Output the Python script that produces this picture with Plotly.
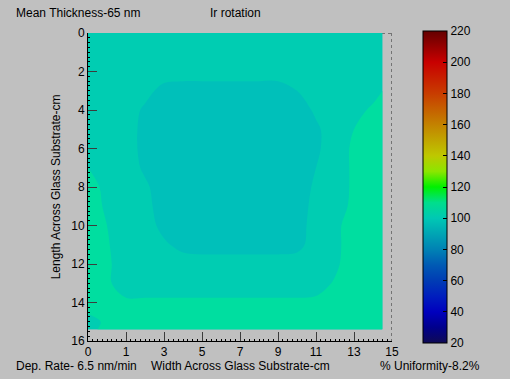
import plotly.graph_objects as go

# ---- data ----
x_cm = [0, 1, 2, 3, 4, 5, 6, 7, 8, 9, 10, 11, 12, 13, 14, 15, 15.5]
y_cm = [0, 1, 2, 3, 4, 5, 6, 7, 8, 9, 10, 11, 12, 13, 14, 15, 15.4]
thickness_pct = [
    [100, 100, 100, 100, 100, 100, 100, 100, 100, 100, 100, 100, 100, 100, 100, 100, 100],
    [100, 100, 100, 100, 100, 100, 100, 100, 100, 100, 100, 100, 100, 100, 100, 100, 100],
    [100, 100, 100, 100, 100, 100, 100, 100, 100, 100, 100, 100, 100, 100, 100, 101, 101],
    [100, 100, 100, 99, 95, 94, 94, 94, 94, 94, 94, 97, 100, 100, 100, 101, 103],
    [100, 100, 100, 96, 94, 94, 94, 94, 94, 94, 94, 94, 98, 100, 101, 104, 106],
    [100, 100, 100, 95, 94, 94, 94, 94, 94, 94, 94, 94, 96, 100, 103, 106, 106],
    [100, 100, 100, 95, 94, 94, 94, 94, 94, 94, 94, 94, 96, 100, 104, 106, 106],
    [103, 100, 100, 96, 94, 94, 94, 94, 94, 94, 94, 94, 97, 100, 104, 106, 106],
    [106, 101, 100, 98, 94, 94, 94, 94, 94, 94, 94, 94, 98, 100, 104, 106, 106],
    [106, 102, 100, 99, 94, 94, 94, 94, 94, 94, 94, 94, 99, 101, 104, 106, 106],
    [106, 103, 100, 100, 95, 94, 94, 94, 94, 94, 94, 94, 100, 102, 105, 106, 106],
    [106, 103.5, 100, 100, 98, 95, 94, 94, 94, 94, 94, 95, 100, 102, 105, 106, 106],
    [106, 104, 100, 100, 100, 100, 100, 100, 100, 100, 100, 100, 100, 102, 106, 106, 106],
    [106, 104, 100, 100, 100, 100, 100, 100, 100, 100, 100, 100, 101, 103.5, 106, 106, 106],
    [106, 105, 104, 104, 104, 104, 104, 104, 104, 104, 104, 104, 104, 105, 106, 106, 106],
    [101, 104, 106, 106, 106, 106, 106, 106, 106, 106, 106, 106, 106, 106, 106, 106, 106],
    [101, 105, 106, 106, 106, 106, 106, 106, 106, 106, 106, 106, 106, 106, 106, 106, 106],
]
x_tick_vals = [0, 2, 4, 6, 8, 10, 12, 14, 16]
x_tick_text = ["0", "1", "3", "5", "7", "9", "11", "13", "15"]
y_tick_vals = [0, 2, 4, 6, 8, 10, 12, 14, 16]
cbar_range = [20, 220]
cbar_ticks = [20, 40, 60, 80, 100, 120, 140, 160, 180, 200, 220]

# ---- styles ----
GRAY = "rgb(192,192,192)"
FONT = "Liberation Sans, Arial, sans-serif"
BLOB = "rgb(0,192,186)"
BG = "rgb(0,205,178)"
GREEN = "rgb(0,222,160)"

jet_like = [
    [0.00, "rgb(15,10,85)"],
    [0.05, "rgb(0,0,140)"],
    [0.10, "rgb(0,0,190)"],
    [0.15, "rgb(0,30,190)"],
    [0.20, "rgb(0,60,180)"],
    [0.25, "rgb(0,90,180)"],
    [0.30, "rgb(0,130,180)"],
    [0.35, "rgb(0,165,180)"],
    [0.40, "rgb(0,200,180)"],
    [0.45, "rgb(0,222,140)"],
    [0.50, "rgb(0,240,0)"],
    [0.55, "rgb(140,230,0)"],
    [0.60, "rgb(190,200,0)"],
    [0.70, "rgb(195,130,0)"],
    [0.80, "rgb(200,60,0)"],
    [0.90, "rgb(200,0,0)"],
    [1.00, "rgb(100,0,0)"],
]

band_scale = [
    [0.0, BLOB], [0.3333, BLOB],
    [0.3333, BG], [0.6667, BG],
    [0.6667, GREEN], [1.0, GREEN],
]

fig = go.Figure()
fig.add_trace(go.Contour(
    x=x_cm, y=y_cm, z=thickness_pct,
    zmin=91, zmax=109,
    contours=dict(start=97, end=103, size=6, coloring="fill", showlines=False),
    line=dict(width=0, smoothing=1.0),
    colorscale=band_scale,
    showscale=False,
    hoverinfo="skip",
))
# colorbar carrier
fig.add_trace(go.Scatter(
    x=[None, None], y=[None, None], mode="markers",
    marker=dict(
        color=cbar_range, cmin=cbar_range[0], cmax=cbar_range[1],
        colorscale=jet_like, showscale=True,
        colorbar=dict(
            x=(423 - 88) / 304, xanchor="left", xpad=0,
            y=0.5, yanchor="middle", ypad=0,
            lenmode="pixels", len=312, thickness=24,
            outlinecolor="black", outlinewidth=1,
            tickvals=cbar_ticks, ticks="inside", ticklen=4, tickcolor="black",
            tickfont=dict(family=FONT, size=12, color="black"),
            borderwidth=0,
        ),
    ),
    showlegend=False, hoverinfo="skip",
))

fig.update_layout(
    width=510, height=379,
    margin=dict(l=88, r=118, t=33, b=38),
    paper_bgcolor=GRAY, plot_bgcolor=GRAY,
    font=dict(family=FONT, size=12, color="black"),
    showlegend=False,
    xaxis=dict(
        range=[0, 16], tickvals=x_tick_vals, ticktext=x_tick_text,
        ticks="inside", ticklen=9, tickcolor="rgb(60,60,60)",
        minor=dict(ticks="inside", ticklen=2, dtick=0.25, tickcolor="black"),
        showgrid=False, zeroline=False,
        showline=True, linecolor="black", linewidth=1,
        tickfont=dict(size=12),
    ),
    yaxis=dict(
        range=[16, 0], tickvals=y_tick_vals,
        ticks="inside", ticklen=9, tickcolor="rgb(60,60,60)",
        minor=dict(ticks="inside", ticklen=2, dtick=0.25, tickcolor="black"),
        showgrid=False, zeroline=False,
        showline=True, linecolor="black", linewidth=1,
        tickfont=dict(size=12),
        title=dict(text="Length Across Glass Substrate-cm", font=dict(size=12), standoff=8),
    ),
    shapes=[
        dict(type="line", xref="x", yref="y", x0=16, x1=16, y0=0, y1=16,
             line=dict(color="rgb(40,40,40)", width=1, dash="dot"), layer="below"),
        dict(type="line", xref="x", yref="y", x0=0, x1=16, y0=0, y1=0,
             line=dict(color="rgb(40,40,40)", width=1, dash="dot"), layer="below"),
    ],
    annotations=[
        dict(text="Mean Thickness-65 nm", xref="paper", yref="paper",
             x=(14 - 88) / 304, y=1 + (33 - 13) / 308, xanchor="left", yanchor="middle",
             showarrow=False, font=dict(size=12)),
        dict(text="Ir rotation", xref="paper", yref="paper",
             x=(235 - 88) / 304, y=1 + (33 - 13) / 308, xanchor="center", yanchor="middle",
             showarrow=False, font=dict(size=12)),
        dict(text="Dep. Rate- 6.5 nm/min", xref="paper", yref="paper",
             x=(14 - 88) / 304, y=-(366 - 341) / 308, xanchor="left", yanchor="middle",
             showarrow=False, font=dict(size=12)),
        dict(text="Width Across Glass Substrate-cm", xref="paper", yref="paper",
             x=(240 - 88) / 304, y=-(366 - 341) / 308, xanchor="center", yanchor="middle",
             showarrow=False, font=dict(size=12)),
        dict(text="% Uniformity-8.2%", xref="paper", yref="paper",
             x=(378 - 88) / 304, y=-(366 - 341) / 308, xanchor="left", yanchor="middle",
             showarrow=False, font=dict(size=12)),
    ],
)

fig.write_html("out.html")
